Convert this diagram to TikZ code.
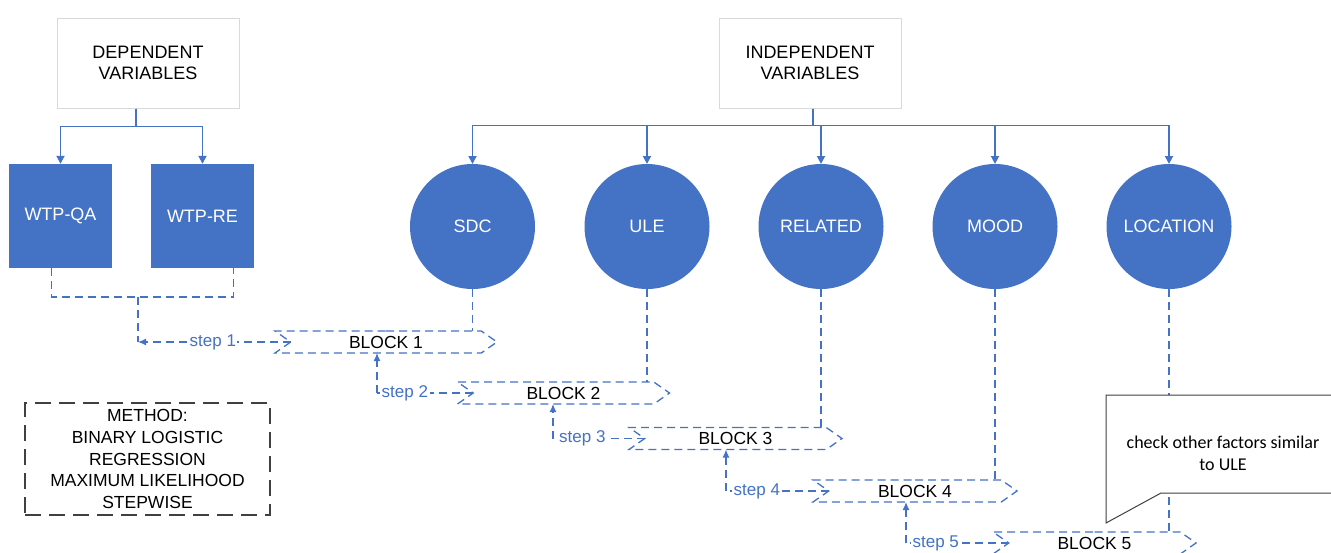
\documentclass[tikz,border=0pt]{standalone}
\usepackage{fontspec}
\setmainfont{Liberation Sans}
\newfontfamily\notefont{Carlito}
\usetikzlibrary{shapes.symbols,arrows.meta}
\definecolor{wordblue}{HTML}{4472C4}
\definecolor{boxgray}{HTML}{D9D9D9}
\definecolor{darkline}{HTML}{404040}
\tikzset{
	varbox/.style={draw=boxgray, line width=1pt, minimum width=182, minimum height=90, align=center, font=\fontsize{18}{21.5}\selectfont},
	wtp/.style={fill=wordblue, text=white, minimum width=103, minimum height=104, font=\fontsize{18}{21.5}\selectfont},
	factor/.style={circle, fill=wordblue, text=white, minimum size=125, inner sep=0, outer sep=0, font=\fontsize{18}{21.5}\selectfont},
	conn/.style={draw=wordblue, line width=1.8pt, -{Triangle[length=8pt,width=8pt]}},
	dashline/.style={draw=wordblue, line width=1.3pt, dash pattern=on 8pt off 5pt},
	uptip/.style={-{Latex[length=8pt,width=7pt]}},
	block/.style={shape=signal, signal from=west, signal to=east, signal pointer angle=70, draw=wordblue, line width=1.3pt, dash pattern=on 8pt off 5pt, minimum height=22, inner sep=0, outer sep=0, font=\fontsize{17.5}{21}\selectfont},
	steplabel/.style={fill=white, text=wordblue, inner sep=1.5pt, font=\fontsize{17}{20}\selectfont},
	methodbox/.style={draw=darkline, line width=1.5pt, dash pattern=on 16pt off 8pt, minimum width=245, minimum height=112, align=center, font=\fontsize{17.5}{21.7}\selectfont},
}
\begin{document}
\begin{tikzpicture}[x=1pt,y=-1pt]
	\useasboundingbox (0,0) rectangle (1331,552);
	% variables
	\node[varbox] (dep) at (148,63) {DEPENDENT\\VARIABLES};
	\node[varbox] (indep) at (810,63) {INDEPENDENT\\VARIABLES};
	\node[wtp] (qa) at (60.5,216) {WTP-QA};
	\node[wtp] (re) at (202.5,216) {WTP-RE};
	\node[factor] (sdc) at (472.5,226.5) {SDC};
	\node[factor] (ule) at (647,226.5) {ULE};
	\node[factor] (rel) at (821,226.5) {RELATED};
	\node[factor] (mood) at (995,226.5) {MOOD};
	\node[factor] (loc) at (1169,226.5) {LOCATION};
	\draw[conn] ([xshift=-12]dep.south) -- ++(0,18) -| (qa.north);
	\draw[conn] ([xshift=-12]dep.south) -- ++(0,18) -| (re.north);
	\foreach \f in {sdc,ule,rel,mood,loc}
		\draw[conn] ([xshift=3]indep.south) -- ++(0,17) -| (\f.north);
	% blocks
	\node[block, minimum width=222] (b1) at (386,342) {BLOCK 1};
	\node[block, minimum width=212] (b2) at (563.5,393) {BLOCK 2};
	\node[block, minimum width=213] (b3) at (735.5,438.5) {BLOCK 3};
	\node[block, minimum width=204] (b4) at (915,491) {BLOCK 4};
	\node[block, minimum width=203] (b5) at (1094.5,543) {BLOCK 5};
	\draw[dashline] (sdc.south) -- (sdc.south |- b1.north);
	\draw[dashline] (ule.south) -- (ule.south |- b2.north);
	\draw[dashline] (rel.south) -- (rel.south |- b3.north);
	\draw[dashline] (mood.south) -- (mood.south |- b4.north);
	\draw[dashline] (loc.south) -- (loc.south |- b5.north);
	% steps
	\coordinate (j0) at (138,297);
	\coordinate (j1) at (138,342);
	\coordinate (j2) at (377,393);
	\coordinate (j3) at (553,438.5);
	\coordinate (j4) at (726,491);
	\coordinate (j5) at (906,543);
	\draw[dashline] ([xshift=-9]qa.south) |- (j0) -| ([xshift=31]re.south);
	\draw[dashline] (j0) -- (j1);
	\draw[dashline, uptip] (b1.west) -- node[steplabel, pos=0.51] {step 1} (j1);
	\draw[dashline, uptip] (j2) -- (j2 |- b1.south);
	\draw[dashline] (b2.west) -- node[steplabel, pos=0.71] {step 2} (j2);
	\draw[dashline, uptip] (j3) -- (j3 |- b2.south);
	\draw[dashline] (b3.west) -- node[steplabel, pos=0.68] {step 3} (j3);
	\draw[dashline, uptip] (j4) -- (j4 |- b3.south);
	\draw[dashline] (b4.west) -- node[steplabel, pos=0.70] {step 4} (j4);
	\draw[dashline, uptip] (j5) -- (j5 |- b4.south);
	\draw[dashline] (b5.west) -- node[steplabel, pos=0.71] {step 5} (j5);
	% method and note
	\node[methodbox] (method) at (147.5,459) {METHOD:\\BINARY LOGISTIC\\REGRESSION\\MAXIMUM LIKELIHOOD\\STEPWISE};
	\draw[darkline, line width=1pt, fill=white] (1340,395) -- (1106,395) -- (1106,523) -- (1161,493) -- (1340,493) -- cycle;
	\node[align=center, font=\notefont\fontsize{18}{22}\selectfont] (note) at (1223,453) {check other factors similar\\to ULE};
\end{tikzpicture}
\end{document}
